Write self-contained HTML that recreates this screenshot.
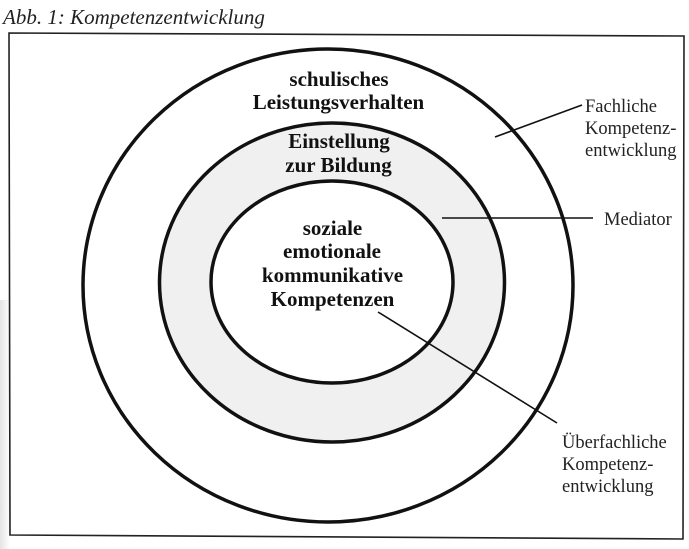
<!DOCTYPE html>
<html>
<head>
<meta charset="utf-8">
<style>
html,body{margin:0;padding:0;background:#fff;}
svg{display:block;}
</style>
</head>
<body>
<svg width="689" height="549" viewBox="0 0 689 549" xmlns="http://www.w3.org/2000/svg">
  <defs>
    <linearGradient id="shade" x1="0" y1="0" x2="1" y2="0">
      <stop offset="0" stop-color="#d8d8d8"/>
      <stop offset="1" stop-color="#ffffff"/>
    </linearGradient>
  </defs>
  <rect x="0" y="0" width="689" height="549" fill="#fff"/>
  <rect x="0" y="300" width="10" height="249" fill="url(#shade)" opacity="0.7"/>

  <text x="3" y="24" font-family="Liberation Serif, serif" font-style="italic" font-size="21" fill="#222">Abb. 1: Kompetenzentwicklung</text>

  <polygon points="9,33 684,36 683,539 10,535" fill="none" stroke="#222" stroke-width="1.6"/>

  <!-- outer ring -->
  <ellipse cx="328" cy="285.5" rx="245" ry="236.5" fill="#fff" stroke="#111" stroke-width="3.5"/>
  <!-- middle ring (gray band) -->
  <ellipse cx="332" cy="282.5" rx="172.5" ry="159.5" fill="#f0f0f0" stroke="#111" stroke-width="3.5"/>
  <!-- inner -->
  <ellipse cx="332" cy="282" rx="121" ry="101" fill="#fff" stroke="#111" stroke-width="3.5"/>

  <!-- connectors -->
  <line x1="495" y1="137" x2="582" y2="105" stroke="#111" stroke-width="1.6"/>
  <line x1="442" y1="218" x2="593" y2="218" stroke="#111" stroke-width="1.6"/>
  <line x1="378" y1="312" x2="557" y2="423" stroke="#111" stroke-width="1.6"/>

  <g font-family="Liberation Serif, serif" font-weight="bold" font-size="21" fill="#111" text-anchor="middle">
    <text x="339" y="86">schulisches</text>
    <text x="338.5" y="109">Leistungsverhalten</text>
    <text x="339" y="148">Einstellung</text>
    <text x="338.5" y="172">zur Bildung</text>
    <text x="332.5" y="235">soziale</text>
    <text x="332" y="258">emotionale</text>
    <text x="332.5" y="282">kommunikative</text>
    <text x="332.5" y="306">Kompetenzen</text>
  </g>

  <g font-family="Liberation Serif, serif" font-size="18.5" fill="#222">
    <text x="585" y="112">Fachliche</text>
    <text x="585" y="134">Kompetenz-</text>
    <text x="585" y="156">entwicklung</text>
    <text x="604" y="225">Mediator</text>
    <text x="562" y="448">Überfachliche</text>
    <text x="562" y="470">Kompetenz-</text>
    <text x="562" y="492">entwicklung</text>
  </g>
</svg>
</body>
</html>
